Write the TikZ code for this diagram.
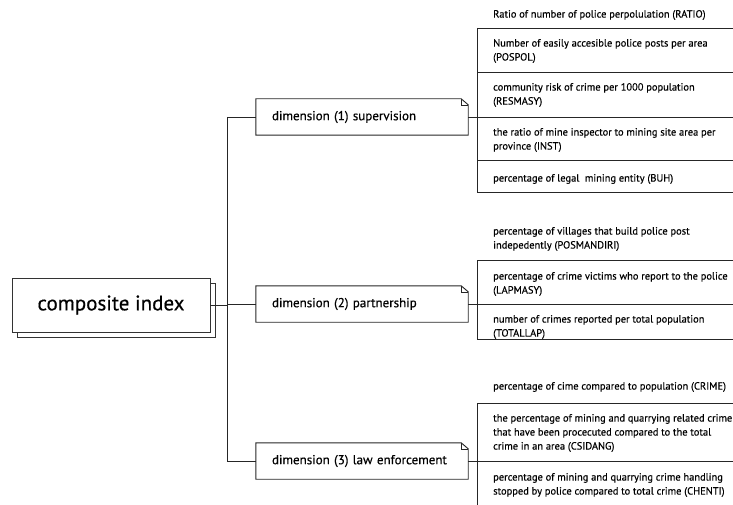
\documentclass[tikz,border=0pt]{standalone}
\usepackage{fontspec}
\setmainfont{PT Sans}
\newfontfamily\medfont[FakeBold=0.4]{PT Sans}
\usetikzlibrary{positioning,calc,shadows}

\begin{document}
\begin{tikzpicture}[
  x=1pt, y=-1pt,
  link/.style={draw=black!85, line width=0.9pt},
  rootbox/.style={draw=black!80, fill=white, line width=0.9pt,
                  minimum width=198pt, minimum height=54pt,
                  copy shadow={shadow xshift=5pt, shadow yshift=-5pt},
                  font=\medfont\fontsize{21}{24}\selectfont},
  dimbox/.style={inner xsep=16pt, text width=180pt, align=left,
                 minimum height=36pt, font=\medfont\fontsize{13}{15}\selectfont},
  item/.style={anchor=west, align=left, inner sep=0pt,
               font=\medfont\fontsize{10.45}{14}\selectfont},
]
\useasboundingbox (0,0) rectangle (733,505);

%% ---- root ----------------------------------------------------------------
\node[rootbox] (root) at (111,305) {composite index};

%% ---- dimensions ----------------------------------------------------------
\node[dimbox] (dimA) at (362,117) {dimension (1) supervision};
\node[dimbox] (dimB) at (362,304) {dimension (2) partnership};
\node[dimbox] (dimC) at (362,461) {dimension (3) law enforcement};

\foreach \d in {dimA,dimB,dimC}{
  \draw[link] (\d.south west) -- (\d.north west) -- ($(\d.north east)+(-7,0)$)
    -- ($(\d.north east)+(0,6)$) -- (\d.south east) -- cycle;
  \draw[link, line width=0.5pt] ($(\d.north east)+(-7,0)$) |- ($(\d.north east)+(0,6)$);
}

%% ---- left spine ----------------------------------------------------------
\coordinate (spineL) at (227,0);
\draw[link] (dimA.west -| spineL) -- (dimC.west -| spineL);
\draw[link] (root.east) -- (root.east -| spineL);
\draw[link] (dimA.west -| spineL) -- (dimA.west);
\draw[link] (dimB.west -| spineL) -- (dimB.west);
\draw[link] (dimC.west -| spineL) -- (dimC.west);

%% ---- indicator tables ----------------------------------------------------
\coordinate (spineR) at (477,0);
\coordinate (edge) at (733,0);
\draw[link] (dimA.east) -- (dimA.east -| edge);
\draw[link] (dimB.east) -- (dimB.east -| edge);
\draw[link] (dimC.east) -- (dimC.east -| edge);

\draw[link] (477,28) -- (477,192);
\foreach \y in {28,72,160,192} \draw[link] (477,\y) -- (733,\y);
\draw[link] (477,260) -- (477,339);
\foreach \y in {260,339} \draw[link] (477,\y) -- (733,\y);
\draw[link] (477,403) -- (477,510);
\draw[link] (477,403) -- (733,403);

%% ---- supervision indicators -----------------------------------------------
\node[item] (ratio) at (493,15) {Ratio of number of police perpolulation (RATIO)};
\node[item] (pospol) at (493,51) {Number of easily accesible police posts per area\\(POSPOL)};
\node[item] (resmasy) at (493,95) {community risk of crime per 1000 population\\(RESMASY)};
\node[item] (inst) at (493,140) {the ratio of mine inspector to mining site area per\\province (INST)};
\node[item] (buh) at (493,179) {percentage of legal\ \ mining entity (BUH)};

%% ---- partnership indicators -----------------------------------------------
\node[item] (posmandiri) at (493,239) {percentage of villages that build police post\\indepedently (POSMANDIRI)};
\node[item] (lapmasy) at (493,284) {percentage of crime victims who report to the police\\(LAPMASY)};
\node[item] (totallap) at (493,327) {number of crimes reported per total population\\(TOTALLAP)};

%% ---- law enforcement indicators -------------------------------------------
\node[item] (crime) at (493,387) {percentage of cime compared to population (CRIME)};
\node[item] (csidang) at (493,433) {the percentage of mining and quarrying related crime\\that have been procecuted compared to the total\\crime in an area (CSIDANG)};
\node[item] (chenti) at (493,485) {percentage of mining and quarrying crime handling\\stopped by police compared to total crime (CHENTI)};

\end{tikzpicture}
\end{document}
